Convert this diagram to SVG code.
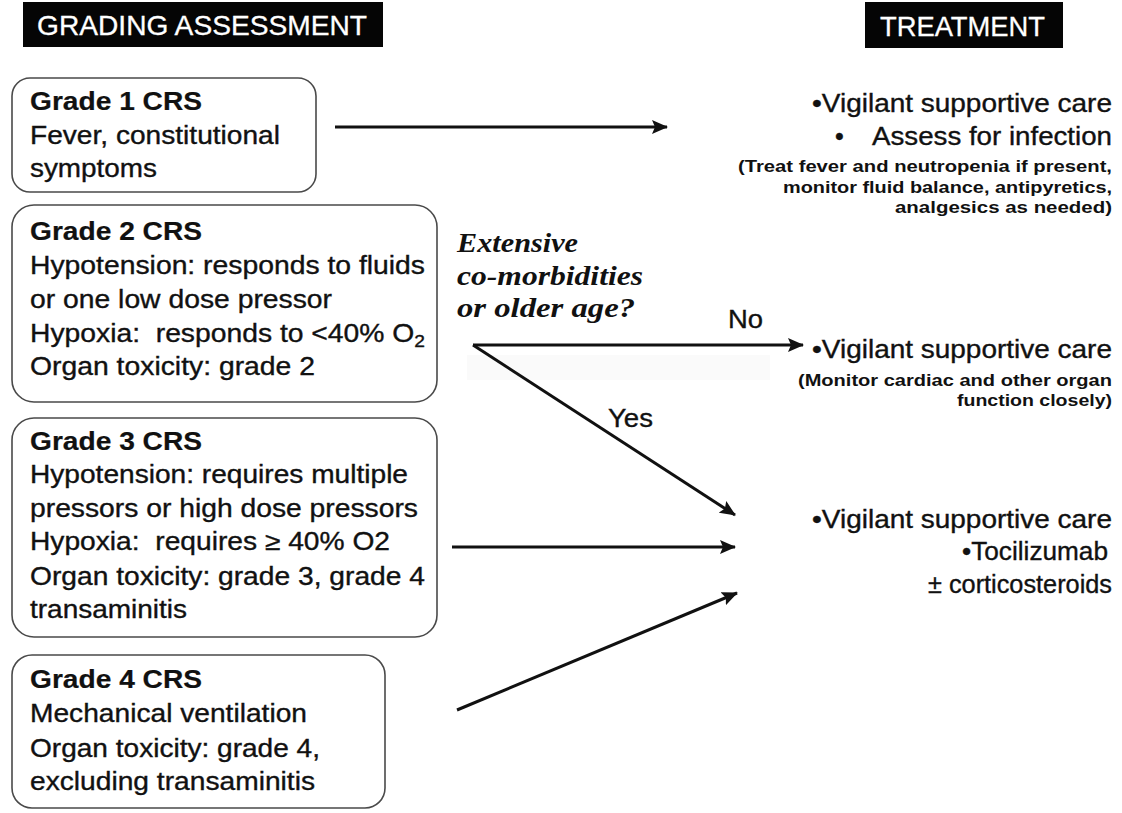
<svg xmlns="http://www.w3.org/2000/svg" width="1122" height="813" viewBox="0 0 1122 813">
<style>
.bg{fill:#fff}
.box{fill:#fff;stroke:#4a4a4a;stroke-width:1.6}
.hdr{fill:#050505}
.t{font-family:"Liberation Sans",Arial,Helvetica,sans-serif;font-size:25px;fill:#111;stroke:#111;stroke-width:0.35}
.b{font-weight:bold;stroke-width:0.2}
.ht{font-family:"Liberation Sans",Arial,Helvetica,sans-serif;font-size:28px;fill:#fff;stroke:#fff;stroke-width:0.3}
.s{font-family:"Liberation Sans",Arial,Helvetica,sans-serif;font-size:16px;fill:#111;font-weight:bold}
.q{font-family:"Liberation Serif","Times New Roman",serif;font-size:28px;font-style:italic;font-weight:bold;fill:#111}
.e{text-anchor:end}
.ar{fill:none;stroke:#111;stroke-width:3}
</style>
<defs>
<marker id="ah" markerUnits="userSpaceOnUse" markerWidth="16" markerHeight="14" refX="15" refY="7" orient="auto">
<path d="M0,0 L16,7 L0,14 L3,7 z" fill="#111"/>
</marker>
</defs>
<rect class="bg" x="0" y="0" width="1122" height="813"/>

<g id="header-grading">
<rect class="hdr" x="23" y="2" width="360" height="45"/>
<text class="ht" x="37" y="35" textLength="330" lengthAdjust="spacingAndGlyphs">GRADING ASSESSMENT</text>
</g>
<g id="header-treatment">
<rect class="hdr" x="865" y="2" width="198" height="46"/>
<text class="ht" x="880" y="36" textLength="165" lengthAdjust="spacingAndGlyphs">TREATMENT</text>
</g>

<g id="grade1">
<rect class="box" x="12" y="78" width="304" height="114" rx="18"/>
<text class="t b" x="30" y="110" textLength="172" lengthAdjust="spacingAndGlyphs">Grade 1 CRS</text>
<text class="t" x="30" y="144" textLength="250" lengthAdjust="spacingAndGlyphs">Fever, constitutional</text>
<text class="t" x="30" y="177" textLength="127" lengthAdjust="spacingAndGlyphs">symptoms</text>
</g>

<g id="grade2">
<rect class="box" x="12" y="205" width="425" height="197" rx="22"/>
<text class="t b" x="30" y="240" textLength="172" lengthAdjust="spacingAndGlyphs">Grade 2 CRS</text>
<text class="t" x="30" y="274" textLength="395" lengthAdjust="spacingAndGlyphs">Hypotension: responds to fluids</text>
<text class="t" x="30" y="308" textLength="302" lengthAdjust="spacingAndGlyphs">or one low dose pressor</text>
<text class="t" x="30" y="342" textLength="395" lengthAdjust="spacingAndGlyphs" xml:space="preserve">Hypoxia:  responds to &lt;40% O<tspan font-size="17" dy="5">2</tspan></text>
<text class="t" x="30" y="375" textLength="285" lengthAdjust="spacingAndGlyphs">Organ toxicity: grade 2</text>
</g>

<g id="grade3">
<rect class="box" x="12" y="418" width="425" height="219" rx="22"/>
<text class="t b" x="30" y="450" textLength="172" lengthAdjust="spacingAndGlyphs">Grade 3 CRS</text>
<text class="t" x="30" y="483" textLength="378" lengthAdjust="spacingAndGlyphs">Hypotension: requires multiple</text>
<text class="t" x="30" y="517" textLength="388" lengthAdjust="spacingAndGlyphs">pressors or high dose pressors</text>
<text class="t" x="30" y="550" textLength="360" lengthAdjust="spacingAndGlyphs" xml:space="preserve">Hypoxia:  requires ≥ 40% O2</text>
<text class="t" x="30" y="585" textLength="395" lengthAdjust="spacingAndGlyphs">Organ toxicity: grade 3, grade 4</text>
<text class="t" x="30" y="618" textLength="157" lengthAdjust="spacingAndGlyphs">transaminitis</text>
</g>

<g id="grade4">
<rect class="box" x="12" y="655" width="373" height="153" rx="20"/>
<text class="t b" x="30" y="688" textLength="172" lengthAdjust="spacingAndGlyphs">Grade 4 CRS</text>
<text class="t" x="30" y="722" textLength="277" lengthAdjust="spacingAndGlyphs">Mechanical ventilation</text>
<text class="t" x="30" y="757" textLength="290" lengthAdjust="spacingAndGlyphs">Organ toxicity: grade 4,</text>
<text class="t" x="30" y="790" textLength="285" lengthAdjust="spacingAndGlyphs">excluding transaminitis</text>
</g>

<g id="question">
<rect x="467" y="355" width="303" height="25" fill="#fafafa"/>
<text class="q" x="457" y="252" textLength="121" lengthAdjust="spacingAndGlyphs">Extensive</text>
<text class="q" x="457" y="285" textLength="186" lengthAdjust="spacingAndGlyphs">co-morbidities</text>
<text class="q" x="457" y="317" textLength="178" lengthAdjust="spacingAndGlyphs">or older age?</text>
</g>

<g id="treat-grade1">
<text class="t e" x="1112" y="112" textLength="300" lengthAdjust="spacingAndGlyphs">•Vigilant supportive care</text>
<text class="t" y="145"><tspan x="835">•</tspan><tspan x="872" textLength="240" lengthAdjust="spacingAndGlyphs">Assess for infection</tspan></text>
<text class="s e" x="1112" y="172" textLength="374" lengthAdjust="spacingAndGlyphs">(Treat fever and neutropenia if present,</text>
<text class="s e" x="1112" y="193" textLength="329" lengthAdjust="spacingAndGlyphs">monitor fluid balance, antipyretics,</text>
<text class="s e" x="1112" y="213" textLength="217" lengthAdjust="spacingAndGlyphs">analgesics as needed)</text>
</g>

<g id="treat-no">
<text class="t e" x="1112" y="358" textLength="300" lengthAdjust="spacingAndGlyphs">•Vigilant supportive care</text>
<text class="s e" x="1112" y="386" textLength="314" lengthAdjust="spacingAndGlyphs">(Monitor cardiac and other organ</text>
<text class="s e" x="1112" y="406" textLength="155" lengthAdjust="spacingAndGlyphs">function closely)</text>
</g>

<g id="treat-high">
<text class="t e" x="1112" y="528" textLength="300" lengthAdjust="spacingAndGlyphs">•Vigilant supportive care</text>
<text class="t e" x="1108" y="560" textLength="146" lengthAdjust="spacingAndGlyphs">•Tocilizumab</text>
<text class="t e" x="1112" y="593" textLength="184" lengthAdjust="spacingAndGlyphs">± corticosteroids</text>
</g>

<g id="connectors">
<line class="ar" x1="335" y1="127" x2="667" y2="127" marker-end="url(#ah)"/>
<line class="ar" x1="473" y1="345" x2="803" y2="345" marker-end="url(#ah)"/>
<line class="ar" x1="473" y1="345" x2="735" y2="515" marker-end="url(#ah)"/>
<line class="ar" x1="452" y1="547" x2="735" y2="547" marker-end="url(#ah)"/>
<line class="ar" x1="457" y1="710" x2="737" y2="593" marker-end="url(#ah)"/>
<text class="t" x="728" y="328" textLength="35" lengthAdjust="spacingAndGlyphs">No</text>
<text class="t" x="608" y="427" textLength="45" lengthAdjust="spacingAndGlyphs">Yes</text>
</g>
</svg>
